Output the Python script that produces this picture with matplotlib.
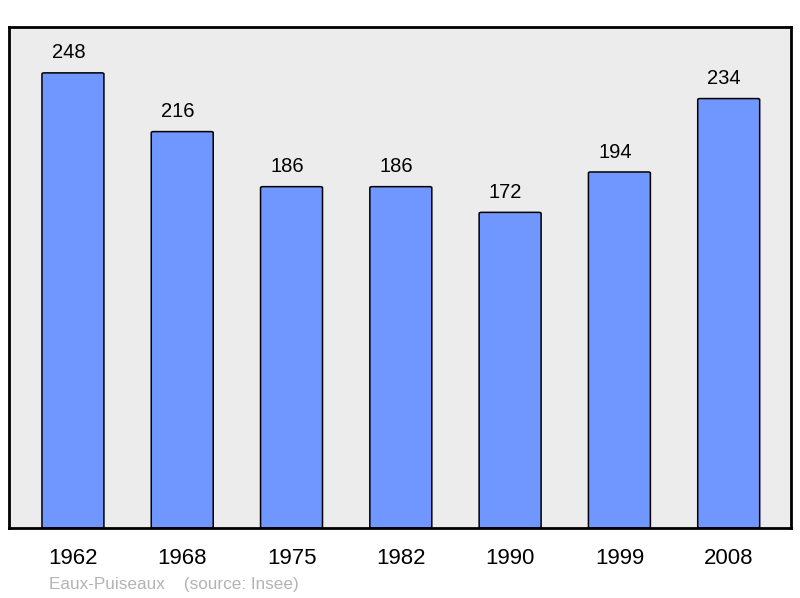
import matplotlib
matplotlib.use("Agg")
import matplotlib.pyplot as plt
from matplotlib.patches import FancyBboxPatch

plt.rcParams['font.family'] = ['Liberation Sans', 'DejaVu Sans']

# population by census year
years = ['1962', '1968', '1975', '1982', '1990', '1999', '2008']
population = [248, 216, 186, 186, 172, 194, 234]
commune = 'Eaux-Puiseaux'
source = '(source: Insee)'

fig = plt.figure(figsize=(8, 5.98), dpi=100)
ax = fig.add_axes([9 / 800, 70 / 598, 782 / 800, 501 / 598])

xs = list(range(len(years)))
bar_w = 0.567
for x, v in zip(xs, population):
    ax.add_patch(FancyBboxPatch((x - bar_w / 2, 0), bar_w, v,
                                boxstyle="round,pad=0,rounding_size=0.02",
                                mutation_aspect=30,
                                facecolor='#7096ff', edgecolor='black', linewidth=1.1))
    ax.annotate(str(v), (x, v), xytext=(-3.3, 7.5), textcoords='offset points',
                ha='center', va='bottom', fontsize=14.5)

ax.set_xlim(-0.585, 6.57)
ax.set_ylim(0, 273)
ax.set_facecolor('#ececec')
ax.set_xticks(xs)
ax.set_xticklabels(years, fontsize=16)
ax.tick_params(axis='x', length=0, pad=14.5)
ax.set_yticks([])
for s in ax.spines.values():
    s.set_linewidth(2)
    s.set_color('black')

fig.text(49 / 800, 1 - 585 / 598, commune + '    ' + source, fontsize=12.3,
         color='#b3b3b3', ha='left', va='center')

fig.savefig('out.png', dpi=100)
